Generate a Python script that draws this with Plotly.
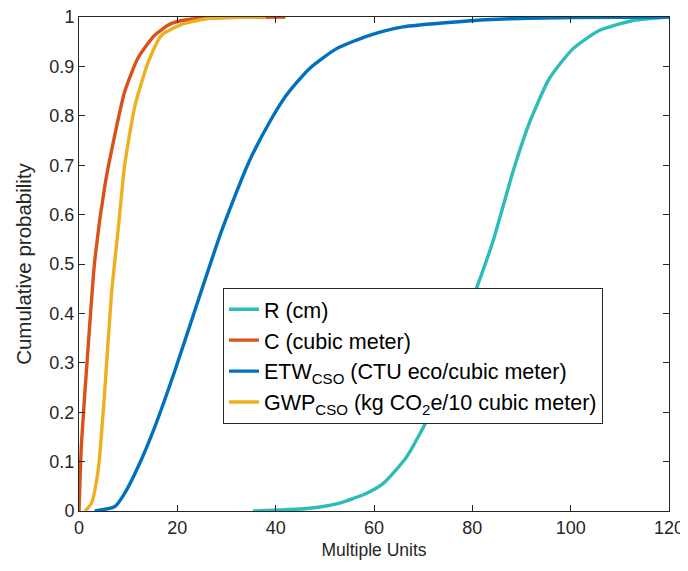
import plotly.graph_objects as go

# R (cm)
r_x = [35.4, 46.3, 53.0, 58.5, 61.9, 66.6, 71.4, 76.1, 80.9, 84.2, 88.3, 91.7, 95.7, 100.5, 105.9, 112.7, 120.0]
r_y = [0.0, 0.005, 0.016, 0.036, 0.056, 0.109, 0.197, 0.325, 0.452, 0.546, 0.688, 0.788, 0.876, 0.936, 0.973, 0.993, 1.0]

# C (cubic meter)
c_x = [0.0, 0.5, 1.9, 3.2, 5.3, 7.3, 9.3, 12.0, 15.4, 18.8, 23.0, 30.0, 42.0]
c_y = [0.0, 0.137, 0.338, 0.506, 0.661, 0.762, 0.849, 0.917, 0.963, 0.987, 0.996, 0.999, 1.0]

# ETW_CSO (CTU eco/cubic meter)
etw_x = [3.2, 7.3, 9.3, 12.0, 15.4, 19.5, 24.2, 29.0, 34.4, 38.8, 42.2, 46.9, 52.4, 59.1, 65.9, 83.6, 100.0, 120.0]
etw_y = [0.0, 0.009, 0.036, 0.089, 0.170, 0.284, 0.425, 0.567, 0.703, 0.788, 0.842, 0.896, 0.936, 0.963, 0.980, 0.995, 0.999, 1.0]

# GWP_CSO (kg CO2e/10 cubic meter)
gwp_x = [1.2, 2.5, 3.9, 5.2, 6.6, 8.0, 9.3, 11.4, 14.1, 16.8, 20.9, 26.2, 38.0]
gwp_y = [0.0, 0.015, 0.083, 0.238, 0.439, 0.573, 0.701, 0.821, 0.909, 0.963, 0.985, 0.997, 1.0]

names = [
    "R (cm)",
    "C (cubic meter)",
    "ETW<sub>CSO</sub> (CTU eco/cubic meter)",
    "GWP<sub>CSO</sub> (kg CO<sub>2</sub>e/10 cubic meter)",
]
colors = ["#2DBDB9", "#D95319", "#0072BD", "#EDB120"]

x_ticks = [0, 20, 40, 60, 80, 100, 120]
y_ticks = [0, 0.1, 0.2, 0.3, 0.4, 0.5, 0.6, 0.7, 0.8, 0.9, 1]
y_tick_labels = ["0", "0.1", "0.2", "0.3", "0.4", "0.5", "0.6", "0.7", "0.8", "0.9", "1"]

fig = go.Figure()
for xs, ys, nm, col in zip([r_x, c_x, etw_x, gwp_x], [r_y, c_y, etw_y, gwp_y], names, colors):
    fig.add_trace(go.Scatter(x=xs, y=ys, mode="lines", name=nm,
                             line=dict(color=col, width=3.4, shape="spline", smoothing=0.6)))

axis_common = dict(
    showgrid=False, zeroline=False, showline=True, mirror="ticks",
    linecolor="#262626", linewidth=1, ticks="inside", ticklen=6,
    tickcolor="#262626", tickfont=dict(size=18, color="#262626"),
    automargin=False, ticklabeloverflow="allow",
)

fig.update_layout(
    width=680, height=563,
    margin=dict(l=71, r=19, t=9, b=60),
    paper_bgcolor="white", plot_bgcolor="white",
    font=dict(family="Liberation Sans, Arial, sans-serif", color="#262626"),
    xaxis=dict(range=[0, 120], tickvals=x_ticks,
               title=dict(text="Multiple Units", font=dict(size=17.5), standoff=7),
               **axis_common),
    yaxis=dict(range=[0, 1], tickvals=y_ticks, ticktext=y_tick_labels,
               title=dict(text="Cumulative probability", font=dict(size=20.5), standoff=12),
               **axis_common),
    legend=dict(x=0.244, y=0.452, xanchor="left", yanchor="top",
                bordercolor="#262626", borderwidth=1, bgcolor="white",
                font=dict(size=21.5, color="#000000"), tracegroupgap=0,
                itemwidth=30),
    showlegend=True,
)

fig.write_html("out.html")
